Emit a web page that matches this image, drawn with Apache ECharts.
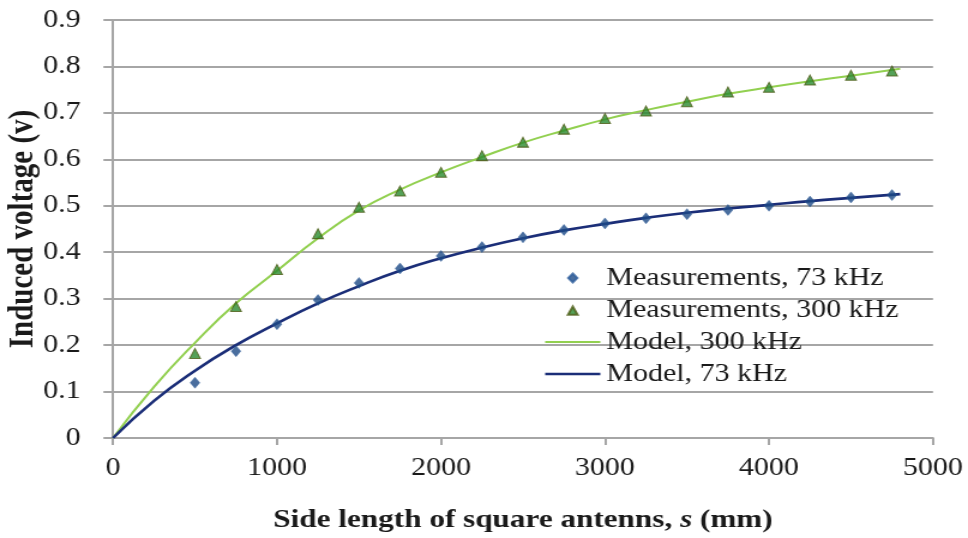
<!DOCTYPE html>
<html>
<head>
<meta charset="utf-8">
<script src="https://cdn.jsdelivr.net/npm/echarts@6/dist/echarts.min.js"></script>
<style>
html,body{margin:0;padding:0;background:#fff;overflow:hidden;width:968px;height:538px;}
#chart{width:807px;height:538px;transform:scaleX(1.1995);transform-origin:0 0;}
</style>
</head>
<body>
<div id="chart"></div>
<script>
// Measurement positions (mm)
const measX = [500,750,1000,1250,1500,1750,2000,2250,2500,2750,3000,3250,3500,3750,4000,4250,4500,4750];
const meas73 = [0.119,0.187,0.245,0.297,0.334,0.365,0.392,0.411,0.432,0.448,0.462,0.473,0.482,0.491,0.500,0.509,0.518,0.523];
const meas300 = [0.182,0.283,0.363,0.440,0.497,0.532,0.572,0.608,0.637,0.665,0.688,0.704,0.724,0.745,0.755,0.771,0.781,0.790];
// Model curves
const modelX = [0,250,500,750,1000,1250,1500,1750,2000,2250,2500,2750,3000,3250,3500,3750,4000,4250,4500,4800];
const model300 = [0,0.110,0.205,0.290,0.360,0.430,0.490,0.535,0.572,0.605,0.636,0.662,0.686,0.706,0.724,0.741,0.755,0.768,0.780,0.795];
const model73 = [0,0.080,0.145,0.200,0.247,0.290,0.327,0.360,0.387,0.410,0.430,0.447,0.461,0.474,0.485,0.494,0.502,0.510,0.517,0.525];
const seriesNames = ['Measurements, 73 kHz','Measurements, 300 kHz','Model, 300 kHz','Model, 73 kHz'];

const pair = (xs, ys) => xs.map((x, i) => [x, ys[i]]);
const serif = '"Liberation Serif","Times New Roman",serif';
const gridColor = '#a6a6a6';
const textColor = '#1a1a1a';
const blue = '#1d4a86', navy = '#1b2e78', lightGreen = '#92d050', darkGreen = '#2a8a2e';

// legend icons: a 46x10 box (corner moves set the extent) with the mark in the middle
const iconBox = 'M0,0M46,10';
const iconDiamond = 'path://' + iconBox + 'M23,0.5L26.8,5L23,9.5L19.2,5Z';
const iconTriangle = 'path://' + iconBox + 'M23,1.5L27,9.8L19,9.8Z';
const iconLineThin = 'path://' + iconBox + 'M0,3.9H46V6.1H0Z';
const iconLineThick = 'path://' + iconBox + 'M0,3.7H46V6.3H0Z';

const chart = echarts.init(document.getElementById('chart'));
chart.setOption({
  animation: false,
  backgroundColor: '#fff',
  grid: {left: 94.2, right: 29.2, top: 20, bottom: 100, containLabel: false, outerBoundsMode: 'none'},
  legend: {
    orient: 'vertical',
    left: 448.5, top: 260.5,
    itemWidth: 46, itemHeight: 10, itemGap: 7,
    symbolKeepAspect: false,
    textStyle: {fontFamily: serif, fontSize: 25, color: textColor, lineHeight: 25},
    data: [
      {name: seriesNames[0], icon: iconDiamond},
      {name: seriesNames[1], icon: iconTriangle},
      {name: seriesNames[2], icon: iconLineThin},
      {name: seriesNames[3], icon: iconLineThick}
    ]
  },
  xAxis: {
    type: 'value', min: 0, max: 5000, interval: 1000,
    name: 'Side length of square antenns, {i|s} (mm)',
    nameLocation: 'middle', nameGap: 69, nameMoveOverlap: false,
    nameTextStyle: {fontFamily: serif, fontSize: 26, fontWeight: 'bold', color: textColor,
      rich: {i: {fontFamily: serif, fontSize: 26, fontWeight: 'bold', fontStyle: 'italic', color: textColor}}},
    axisLine: {show: true, lineStyle: {color: gridColor, width: 2}},
    axisTick: {show: true, length: 7, lineStyle: {color: gridColor, width: 2}},
    axisLabel: {fontFamily: serif, fontSize: 25, color: textColor, margin: 18,
      formatter: v => String(v)},
    splitLine: {show: false}
  },
  yAxis: {
    type: 'value', min: 0, max: 0.9, interval: 0.1,
    name: 'Induced voltage (v)',
    nameLocation: 'middle', nameGap: 60, nameMoveOverlap: false,
    nameTextStyle: {fontFamily: serif, fontSize: 29, fontWeight: 'bold', color: textColor},
    axisLine: {show: true, lineStyle: {color: gridColor, width: 2}},
    axisTick: {show: true, length: 8, lineStyle: {color: gridColor, width: 2}},
    axisLabel: {fontFamily: serif, fontSize: 25, color: textColor, margin: 27,
      formatter: v => (Math.round(v * 10) / 10).toString()},
    splitLine: {show: true, lineStyle: {color: gridColor, width: 2}}
  },
  series: [
    {name: seriesNames[2], type: 'line', data: pair(modelX, model300), smooth: true, showSymbol: false, symbol: 'none',
      lineStyle: {color: lightGreen, width: 2}, itemStyle: {color: lightGreen}, z: 2},
    {name: seriesNames[3], type: 'line', data: pair(modelX, model73), smooth: true, showSymbol: false, symbol: 'none',
      lineStyle: {color: navy, width: 2.6}, itemStyle: {color: navy}, z: 2},
    {name: seriesNames[0], type: 'scatter', data: pair(measX, meas73), symbol: 'diamond', symbolSize: [8, 11],
      itemStyle: {color: blue, borderColor: '#2f5f9e', borderWidth: 0.5}, z: 5},
    {name: seriesNames[1], type: 'scatter', data: pair(measX, meas300), symbol: 'triangle', symbolSize: [9, 10],
      itemStyle: {color: darkGreen, borderColor: '#4d5c16', borderWidth: 1}, z: 5}
  ]
});
</script>
</body>
</html>
